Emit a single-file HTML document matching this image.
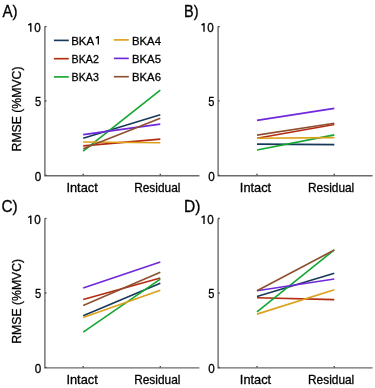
<!DOCTYPE html>
<html><head><meta charset="utf-8"><style>
html,body{margin:0;padding:0;background:#fff;}
body{width:375px;height:388px;overflow:hidden;}
svg{display:block;will-change:transform;}
text{font-family:"Liberation Sans",sans-serif;fill:#000000;stroke:#000000;stroke-width:0.3px;}
</style></head><body>
<svg width="375" height="388" viewBox="0 0 375 388">
<rect width="375" height="388" fill="#fff"/>
<path d="M44.90 26.60V175.75H199.40" fill="none" stroke="#6b6b6b" stroke-width="1.4"/>
<path d="M44.90 175.30h1.6" stroke="#444" stroke-width="1.3"/>
<path d="M44.90 100.95h1.6" stroke="#444" stroke-width="1.3"/>
<path d="M44.90 26.60h1.6" stroke="#444" stroke-width="1.3"/>
<path d="M83.20 175.30v-1.6" stroke="#444" stroke-width="1.3"/>
<path d="M160.30 175.30v-1.6" stroke="#444" stroke-width="1.3"/>
<path d="M83.20 138.27L160.30 114.78" stroke="#163a5a" stroke-width="1.65"/>
<path d="M83.20 145.86L160.30 139.17" stroke="#b42c10" stroke-width="1.65"/>
<path d="M83.20 151.21L160.30 90.09" stroke="#14a832" stroke-width="1.65"/>
<path d="M83.20 141.99L160.30 142.73" stroke="#dca01a" stroke-width="1.65"/>
<path d="M83.20 134.56L160.30 124.15" stroke="#7028dc" stroke-width="1.65"/>
<path d="M83.20 148.83L160.30 118.35" stroke="#8e5030" stroke-width="1.65"/>
<path d="M218.10 26.60V175.75H372.60" fill="none" stroke="#6b6b6b" stroke-width="1.4"/>
<path d="M218.10 175.30h1.6" stroke="#444" stroke-width="1.3"/>
<path d="M218.10 100.95h1.6" stroke="#444" stroke-width="1.3"/>
<path d="M218.10 26.60h1.6" stroke="#444" stroke-width="1.3"/>
<path d="M257.00 175.30v-1.6" stroke="#444" stroke-width="1.3"/>
<path d="M334.30 175.30v-1.6" stroke="#444" stroke-width="1.3"/>
<path d="M257.00 144.07L334.30 144.67" stroke="#163a5a" stroke-width="1.65"/>
<path d="M257.00 138.27L334.30 124.44" stroke="#b42c10" stroke-width="1.65"/>
<path d="M257.00 150.02L334.30 134.85" stroke="#14a832" stroke-width="1.65"/>
<path d="M257.00 138.27L334.30 137.68" stroke="#dca01a" stroke-width="1.65"/>
<path d="M257.00 120.43L334.30 108.39" stroke="#7028dc" stroke-width="1.65"/>
<path d="M257.00 135.15L334.30 123.26" stroke="#8e5030" stroke-width="1.65"/>
<path d="M44.90 218.50V367.90H199.40" fill="none" stroke="#6b6b6b" stroke-width="1.4"/>
<path d="M44.90 367.50h1.6" stroke="#444" stroke-width="1.3"/>
<path d="M44.90 293.00h1.6" stroke="#444" stroke-width="1.3"/>
<path d="M44.90 218.50h1.6" stroke="#444" stroke-width="1.3"/>
<path d="M83.20 367.50v-1.6" stroke="#444" stroke-width="1.3"/>
<path d="M160.30 367.50v-1.6" stroke="#444" stroke-width="1.3"/>
<path d="M83.20 315.65L160.30 283.17" stroke="#163a5a" stroke-width="1.65"/>
<path d="M83.20 299.56L160.30 277.95" stroke="#b42c10" stroke-width="1.65"/>
<path d="M83.20 332.19L160.30 279.14" stroke="#14a832" stroke-width="1.65"/>
<path d="M83.20 317.58L160.30 290.17" stroke="#dca01a" stroke-width="1.65"/>
<path d="M83.20 287.93L160.30 262.01" stroke="#7028dc" stroke-width="1.65"/>
<path d="M83.20 305.52L160.30 272.14" stroke="#8e5030" stroke-width="1.65"/>
<path d="M218.10 218.50V367.90H372.60" fill="none" stroke="#6b6b6b" stroke-width="1.4"/>
<path d="M218.10 367.50h1.6" stroke="#444" stroke-width="1.3"/>
<path d="M218.10 293.00h1.6" stroke="#444" stroke-width="1.3"/>
<path d="M218.10 218.50h1.6" stroke="#444" stroke-width="1.3"/>
<path d="M257.00 367.50v-1.6" stroke="#444" stroke-width="1.3"/>
<path d="M334.30 367.50v-1.6" stroke="#444" stroke-width="1.3"/>
<path d="M257.00 296.43L334.30 273.18" stroke="#163a5a" stroke-width="1.65"/>
<path d="M257.00 297.77L334.30 299.56" stroke="#b42c10" stroke-width="1.65"/>
<path d="M257.00 311.92L334.30 249.94" stroke="#14a832" stroke-width="1.65"/>
<path d="M257.00 314.16L334.30 289.72" stroke="#dca01a" stroke-width="1.65"/>
<path d="M257.00 290.76L334.30 278.99" stroke="#7028dc" stroke-width="1.65"/>
<path d="M257.00 290.76L334.30 249.94" stroke="#8e5030" stroke-width="1.65"/>
<path d="M53.9 40.4h14.9" stroke="#163a5a" stroke-width="1.65"/>
<path d="M53.9 58.7h14.9" stroke="#b42c10" stroke-width="1.65"/>
<path d="M53.9 76.9h14.9" stroke="#14a832" stroke-width="1.65"/>
<path d="M113.9 39.9h14.9" stroke="#dca01a" stroke-width="1.65"/>
<path d="M113.9 58.4h14.9" stroke="#7028dc" stroke-width="1.65"/>
<path d="M113.9 76.7h14.9" stroke="#8e5030" stroke-width="1.65"/>
<path d="M28.30 25.20L30.80 23.70V31.75" fill="none" stroke="#000" stroke-width="1.35" stroke-linejoin="round"/>
<path d="M201.50 25.20L204.00 23.70V31.75" fill="none" stroke="#000" stroke-width="1.35" stroke-linejoin="round"/>
<path d="M28.30 217.50L30.80 216.00V224.10" fill="none" stroke="#000" stroke-width="1.35" stroke-linejoin="round"/>
<path d="M201.50 217.50L204.00 216.00V224.10" fill="none" stroke="#000" stroke-width="1.35" stroke-linejoin="round"/>
<path d="M95.80 38.10L98.30 36.60V44.40" fill="none" stroke="#000" stroke-width="1.35" stroke-linejoin="round"/>
<text id="lA" x="2.38" y="17.47" font-size="16.00" textLength="15.13" lengthAdjust="spacingAndGlyphs">A)</text>
<text id="lB" x="184.12" y="17.47" font-size="16.00" textLength="14.46" lengthAdjust="spacingAndGlyphs">B)</text>
<text id="lC" x="1.52" y="212.05" font-size="16.00" textLength="16.20" lengthAdjust="spacingAndGlyphs">C)</text>
<text id="lD" x="184.12" y="212.15" font-size="16.00" textLength="16.45" lengthAdjust="spacingAndGlyphs">D)</text>
<text id="A10" x="34.17" y="31.64" font-size="12.00" textLength="6.51" lengthAdjust="spacingAndGlyphs">0</text>
<text id="A5" x="35.10" y="106.30" font-size="12.00" textLength="6.19" lengthAdjust="spacingAndGlyphs">5</text>
<text id="A0" x="34.75" y="181.10" font-size="12.00" textLength="6.51" lengthAdjust="spacingAndGlyphs">0</text>
<text id="B10" x="207.32" y="31.64" font-size="12.00" textLength="6.51" lengthAdjust="spacingAndGlyphs">0</text>
<text id="B5" x="208.33" y="106.30" font-size="12.00" textLength="6.19" lengthAdjust="spacingAndGlyphs">5</text>
<text id="B0" x="208.15" y="181.10" font-size="12.00" textLength="6.51" lengthAdjust="spacingAndGlyphs">0</text>
<text id="C10" x="34.17" y="223.80" font-size="12.00" textLength="6.51" lengthAdjust="spacingAndGlyphs">0</text>
<text id="C5" x="35.10" y="298.20" font-size="12.00" textLength="6.19" lengthAdjust="spacingAndGlyphs">5</text>
<text id="C0" x="34.75" y="373.05" font-size="12.00" textLength="6.51" lengthAdjust="spacingAndGlyphs">0</text>
<text id="D10" x="207.32" y="223.80" font-size="12.00" textLength="6.51" lengthAdjust="spacingAndGlyphs">0</text>
<text id="D5" x="208.33" y="298.20" font-size="12.00" textLength="6.19" lengthAdjust="spacingAndGlyphs">5</text>
<text id="D0" x="208.15" y="373.05" font-size="12.00" textLength="6.51" lengthAdjust="spacingAndGlyphs">0</text>
<text id="AI" x="66.40" y="192.45" font-size="12.80" textLength="31.39" lengthAdjust="spacingAndGlyphs">Intact</text>
<text id="AR" x="134.17" y="192.45" font-size="12.80" textLength="46.24" lengthAdjust="spacingAndGlyphs">Residual</text>
<text id="BI" x="239.82" y="192.45" font-size="12.80" textLength="31.39" lengthAdjust="spacingAndGlyphs">Intact</text>
<text id="BR" x="308.00" y="192.45" font-size="12.80" textLength="46.24" lengthAdjust="spacingAndGlyphs">Residual</text>
<text id="CI" x="66.40" y="384.37" font-size="12.80" textLength="31.39" lengthAdjust="spacingAndGlyphs">Intact</text>
<text id="CR" x="134.17" y="384.37" font-size="12.80" textLength="46.24" lengthAdjust="spacingAndGlyphs">Residual</text>
<text id="DI" x="239.82" y="384.37" font-size="12.80" textLength="31.39" lengthAdjust="spacingAndGlyphs">Intact</text>
<text id="DR" x="308.00" y="384.37" font-size="12.80" textLength="46.24" lengthAdjust="spacingAndGlyphs">Residual</text>
<text id="RA" transform="translate(21.08 151.40) rotate(-90)" font-size="13.50" textLength="84.85" lengthAdjust="spacingAndGlyphs">RMSE (%MVC)</text>
<text id="RC" transform="translate(20.63 343.72) rotate(-90)" font-size="13.50" textLength="84.85" lengthAdjust="spacingAndGlyphs">RMSE (%MVC)</text>
<text id="K1" x="71.27" y="44.55" font-size="11.60" textLength="22.80" lengthAdjust="spacingAndGlyphs">BKA</text>
<text id="K2" x="71.62" y="62.58" font-size="11.60" textLength="27.29" lengthAdjust="spacingAndGlyphs">BKA2</text>
<text id="K3" x="71.62" y="80.58" font-size="11.60" textLength="27.29" lengthAdjust="spacingAndGlyphs">BKA3</text>
<text id="K4" x="132.00" y="44.55" font-size="11.60" textLength="29.00" lengthAdjust="spacingAndGlyphs">BKA4</text>
<text id="K5" x="132.00" y="62.58" font-size="11.60" textLength="29.00" lengthAdjust="spacingAndGlyphs">BKA5</text>
<text id="K6" x="132.00" y="80.58" font-size="11.60" textLength="29.00" lengthAdjust="spacingAndGlyphs">BKA6</text>
</svg>
</body></html>
